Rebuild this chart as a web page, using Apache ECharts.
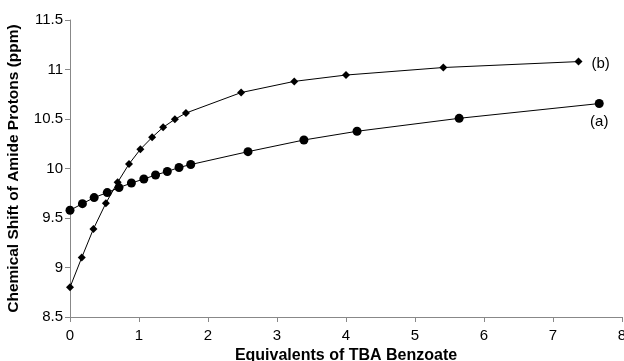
<!DOCTYPE html>
<html>
<head>
<meta charset="utf-8">
<script src="https://cdn.jsdelivr.net/npm/echarts@6/dist/echarts.min.js"></script>
<style>
  html, body { margin: 0; padding: 0; background: #fff; }
  #chart { width: 624px; height: 361px; }
</style>
</head>
<body>
<div id="chart"></div>
<script>
  // series (b), diamonds
  var bX = [0, 0.17, 0.34, 0.52, 0.69, 0.855, 1.02, 1.19, 1.35, 1.52, 1.68, 2.48, 3.25, 4.0, 5.41, 7.37]
  var bY = [8.80, 9.10, 9.39, 9.65, 9.86, 10.045, 10.194, 10.315, 10.416, 10.497, 10.56, 10.767, 10.88, 10.944, 11.02, 11.08]
  // series (a), circles
  var aX = [0, 0.18, 0.35, 0.54, 0.71, 0.89, 1.07, 1.24, 1.41, 1.58, 1.75, 2.58, 3.39, 4.16, 5.64, 7.67]
  var aY = [9.578, 9.645, 9.706, 9.757, 9.807, 9.853, 9.894, 9.934, 9.97, 10.01, 10.04, 10.17, 10.288, 10.376, 10.507, 10.656]

  var font = 'Liberation Sans, Arial, sans-serif'

  function pairs (xs, ys, lastLabel) {
    return xs.map(function (x, i) {
      var item = { value: [x, ys[i]] }
      if (i === xs.length - 1) item.label = lastLabel
      return item
    })
  }

  var myChart = echarts.init(document.getElementById('chart'))
  var axisStyle = {
    axisLine: { show: true, lineStyle: { color: '#888', width: 1 } },
    axisTick: { show: true, length: 5, lineStyle: { color: '#888' } },
    splitLine: { show: false }
  }
  var option = {
    animation: false,
    grid: { left: 70, right: 2, top: 20, bottom: 44, containLabel: false, outerBoundsMode: 'none' },
    xAxis: Object.assign({
      type: 'value',
      min: 0,
      max: 8,
      interval: 1,
      name: 'Equivalents of TBA Benzoate',
      nameLocation: 'middle',
      nameGap: 27,
      nameTextStyle: { fontSize: 16, fontWeight: 'bold', color: '#000', fontFamily: font },
      axisLabel: { color: '#000', fontSize: 15, fontFamily: font, margin: 11 }
    }, axisStyle),
    yAxis: Object.assign({
      type: 'value',
      min: 8.5,
      max: 11.5,
      interval: 0.5,
      name: 'Chemical Shift of Amide Protons (ppm)',
      nameLocation: 'middle',
      nameGap: 48,
      nameTextStyle: { fontSize: 15.5, fontWeight: 'bold', color: '#000', fontFamily: font },
      axisLabel: { color: '#000', fontSize: 15, fontFamily: font, margin: 7 }
    }, axisStyle),
    series: [
      {
        name: '(b)',
        type: 'line',
        symbol: 'diamond',
        symbolSize: 8,
        itemStyle: { color: '#000' },
        lineStyle: { color: '#000', width: 1 },
        data: pairs(bX, bY, {
          show: true, position: 'right', distance: 9, offset: [0, 2], formatter: '(b)',
          color: '#000', fontSize: 15, fontFamily: font
        })
      },
      {
        name: '(a)',
        type: 'line',
        symbol: 'circle',
        symbolSize: 9,
        itemStyle: { color: '#000' },
        lineStyle: { color: '#000', width: 1 },
        data: pairs(aX, aY, {
          show: true, position: 'bottom', distance: 6, formatter: '(a)',
          color: '#000', fontSize: 15, fontFamily: font
        })
      }
    ]
  }
  myChart.setOption(option)
</script>
</body>
</html>
